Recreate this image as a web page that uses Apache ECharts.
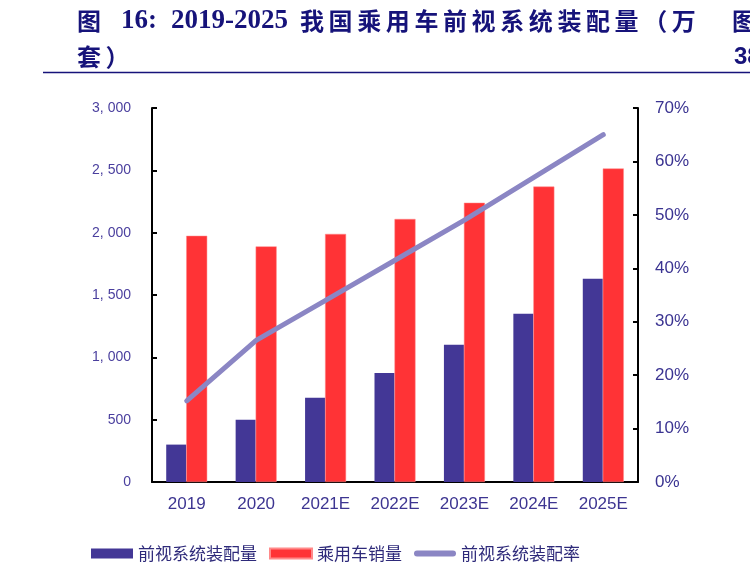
<!DOCTYPE html>
<html>
<head>
<meta charset="utf-8">
<script src="https://cdn.jsdelivr.net/npm/echarts@6/dist/echarts.min.js"></script>
<style>html,body{margin:0;padding:0;background:#fff;}#c{width:750px;height:572px;}</style>
</head>
<body>
<div id="c"></div>
<script>
const categories = ['2019', '2020', '2021E', '2022E', '2023E', '2024E', '2025E'];
const installVolume = [300, 500, 675, 875, 1100, 1350, 1630];
const salesVolume = [1975, 1890, 1990, 2110, 2240, 2370, 2515];
const installRate = [15.2, 26.5, 34.0, 41.5, 49.0, 57.0, 65.0];
const seriesNames = ['前视系统装配量', '乘用车销量', '前视系统装配率'];
const titleCJK = '我国乘用车前视系统装配量（万';

const NAVY = '#16137a';
const chart = echarts.init(document.getElementById('c'));

const titleEls = [];
const tFont = 'bold 24px "Noto Sans CJK SC", sans-serif';
const nFont = 'bold 27px "Liberation Serif", serif';
function addText(txt, x, y, font, fill) {
  titleEls.push({ type: 'text', left: x, top: y, style: { text: txt, font: font || tFont, fill: fill || NAVY } });
}
addText('图', 77, 9);
addText('16:', 121, 8, nFont);
addText('2019-2025', 171, 8, nFont);
for (let i = 0; i < titleCJK.length; i++) addText(titleCJK[i], 300 + i * 28.6, 9);
addText('套', 77, 45);
addText('）', 105.6, 45);
addText('图', 732, 9);
addText('38', 734, 45, 'bold 24px "Liberation Sans", sans-serif');
titleEls.push({ type: 'line', shape: { x1: 43, y1: 72.5, x2: 750, y2: 72.5 }, style: { stroke: NAVY, lineWidth: 1.5 } });

function fmtThousands(v) {
  if (v >= 1000) return Math.floor(v / 1000) + ', ' + String(v % 1000).padStart(3, '0');
  return String(v);
}

chart.setOption({
  animation: false,
  graphic: titleEls,
  grid: { left: 152, right: 112, top: 108, bottom: 90 },
  legend: {
    left: 86, top: 540,
    itemWidth: 42, itemHeight: 10, itemGap: 12,
    symbolKeepAspect: true,
    textStyle: { fontSize: 17, color: '#2e2a7a', fontFamily: '"Noto Sans CJK SC", sans-serif' },
    data: [
      { name: seriesNames[0], icon: 'rect' },
      { name: seriesNames[1], icon: 'rect' },
      { name: seriesNames[2], icon: 'path://M3,0 L39,0 A3,3 0 0 1 39,6 L3,6 A3,3 0 0 1 3,0 Z' }
    ]
  },
  xAxis: {
    type: 'category', data: categories,
    axisLine: { lineStyle: { color: '#000', width: 2 } },
    axisTick: { inside: true, length: 5, lineStyle: { color: '#000', width: 2 } },
    axisLabel: { color: '#3d3591', fontSize: 17, margin: 14, fontFamily: '"Liberation Sans", Arial, sans-serif' }
  },
  yAxis: [
    {
      type: 'value', min: 0, max: 3000, interval: 500,
      axisLine: { show: true, lineStyle: { color: '#000', width: 2 } },
      axisTick: { show: true, inside: true, length: 5, lineStyle: { color: '#000', width: 2 } },
      splitLine: { show: false },
      axisLabel: { color: '#4a3f9e', fontSize: 14, margin: 21, formatter: fmtThousands, fontFamily: '"Liberation Sans", Arial, sans-serif' }
    },
    {
      type: 'value', min: 0, max: 70, interval: 10, position: 'right',
      axisLine: { show: true, lineStyle: { color: '#000', width: 2 } },
      axisTick: { show: true, inside: true, length: 5, lineStyle: { color: '#000', width: 2 } },
      splitLine: { show: false },
      axisLabel: { color: '#3a3391', fontSize: 17, margin: 17, formatter: '{value}%', fontFamily: '"Liberation Sans", Arial, sans-serif' }
    }
  ],
  series: [
    { name: seriesNames[0], type: 'bar', data: installVolume, barWidth: 20, barGap: '0%', itemStyle: { color: '#433796' } },
    { name: seriesNames[1], type: 'bar', data: salesVolume, barWidth: 21, barGap: '0%', itemStyle: { color: '#ff3336', borderColor: '#ff8a8a', borderWidth: 0.5 } },
    { name: seriesNames[2], type: 'line', yAxisIndex: 1, data: installRate, symbol: 'none', lineStyle: { color: '#8b86c4', width: 5, cap: 'round', join: 'round' }, itemStyle: { color: '#8b86c4' } }
  ]
});
</script>
</body>
</html>
